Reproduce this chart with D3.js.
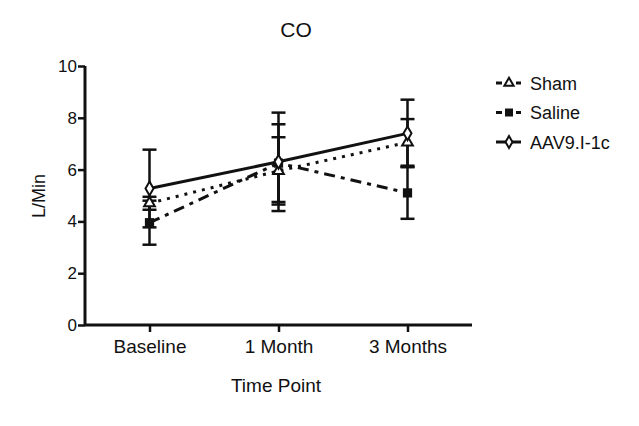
<!DOCTYPE html>
<meta charset="utf-8">
<head>
  <style>
    body { margin: 0; background: white; }
    text { font-family: "Liberation Sans", Arial, sans-serif; fill: #111; }
  </style>
</head>
<script src="https://d3js.org/d3.v7.min.js"></script>
<div id="chart"></div>
<script>
// data
const timePoints = ["Baseline", "1 Month", "3 Months"];
const seriesNames = ["Sham", "Saline", "AAV9.I-1c"];
const shamMean = [4.7, 5.95, 7.05];
const shamErr = [0.25, 1.3, 0.9];
const salineMean = [3.95, 6.25, 5.1];
const salineErr = [0.85, 1.5, 1.0];
const aavMean = [5.27, 6.3, 7.4];
const aavErr = [1.5, 1.9, 1.3];
const yTicks = [0, 2, 4, 6, 8, 10];

const series = [
  { name: seriesNames[0], mean: shamMean, err: shamErr, dash: "3,6", marker: "triangle" },
  { name: seriesNames[1], mean: salineMean, err: salineErr, dash: "11,6,4,6", marker: "square" },
  { name: seriesNames[2], mean: aavMean, err: aavErr, dash: null, marker: "diamond" }
];

const W = 639, H = 426;
const svg = d3.select("#chart").append("svg")
  .attr("width", W).attr("height", H);

const x = d3.scalePoint().domain(timePoints).range([85, 472]).padding(0.5);
const y = d3.scaleLinear().domain([0, 10]).range([325, 66]);

// axes
const yAxis = svg.append("g")
  .attr("transform", "translate(85,0)")
  .call(d3.axisLeft(y).tickValues(yTicks).tickSize(7).tickPadding(1));
const xAxis = svg.append("g")
  .attr("transform", "translate(0,325)")
  .call(d3.axisBottom(x).tickSize(7).tickPadding(8));
[xAxis, yAxis].forEach(g => {
  g.select(".domain").attr("stroke", "#111").attr("stroke-width", 3);
  g.selectAll(".tick line").attr("stroke", "#111").attr("stroke-width", 2.5);
  g.selectAll("text").style("font-family", "'Liberation Sans', Arial, sans-serif").attr("fill", "#111");
});
xAxis.selectAll("text").style("font-size", "19px");
yAxis.selectAll("text").style("font-size", "17px");
xAxis.select(".domain").attr("d", "M85,0H472");
yAxis.select(".domain").attr("d", "M0,325V66");

// error bars
const cap = 7;
series.forEach(s => {
  const g = svg.append("g");
  timePoints.forEach((t, i) => {
    const cx = x(t), hi = y(s.mean[i] + s.err[i]), lo = y(s.mean[i] - s.err[i]);
    g.append("line").attr("x1", cx).attr("x2", cx).attr("y1", hi).attr("y2", lo)
      .attr("stroke", "#111").attr("stroke-width", 2.5);
    [hi, lo].forEach(yy => g.append("line")
      .attr("x1", cx - cap).attr("x2", cx + cap).attr("y1", yy).attr("y2", yy)
      .attr("stroke", "#111").attr("stroke-width", 2.5));
  });
});

// lines
const line = d3.line().x((d, i) => x(timePoints[i])).y(d => y(d));
series.forEach(s => {
  svg.append("path").datum(s.mean)
    .attr("d", line)
    .attr("fill", "none")
    .attr("stroke", "#111")
    .attr("stroke-width", 3)
    .attr("stroke-dasharray", s.dash);
});

// markers
function drawMarker(g, type, cx, cy, scale) {
  scale = scale || 1;
  if (type === "triangle") {
    g.append("path")
      .attr("d", d3.symbol(d3.symbolTriangle, 50 * scale)())
      .attr("transform", `translate(${cx},${cy})`)
      .attr("fill", "white").attr("stroke", "#111").attr("stroke-width", 2);
  } else if (type === "square") {
    g.append("path")
      .attr("d", d3.symbol(d3.symbolSquare, 85 * scale)())
      .attr("transform", `translate(${cx},${cy})`)
      .attr("fill", "#111");
  } else {
    g.append("path")
      .attr("d", d3.symbol(d3.symbolDiamond, 55 * scale)())
      .attr("transform", `translate(${cx},${cy})`)
      .attr("fill", "white").attr("stroke", "#111").attr("stroke-width", 2);
  }
}
series.forEach(s => {
  const g = svg.append("g");
  s.mean.forEach((v, i) => drawMarker(g, s.marker, x(timePoints[i]), y(v)));
});

// legend
const legend = svg.append("g");
series.forEach((s, i) => {
  const ly = 83 + i * 29.5;
  legend.append("line")
    .attr("x1", 496).attr("x2", 521).attr("y1", ly).attr("y2", ly)
    .attr("stroke", "#111").attr("stroke-width", 3)
    .attr("stroke-dasharray", s.dash ? "6,4" : null);
  drawMarker(legend, s.marker, 509, ly, 0.75);
  legend.append("text")
    .attr("x", 530).attr("y", ly + 6.5)
    .style("font-size", "18px")
    .text(s.name);
});

// titles
svg.append("text").attr("x", 296).attr("y", 37)
  .attr("text-anchor", "middle").style("font-size", "21px").text("CO");
svg.append("text").attr("x", 276).attr("y", 392)
  .attr("text-anchor", "middle").style("font-size", "19px").text("Time Point");
svg.append("text")
  .attr("transform", "translate(45,196) rotate(-90)")
  .attr("text-anchor", "middle").style("font-size", "18px").text("L/Min");
</script>
